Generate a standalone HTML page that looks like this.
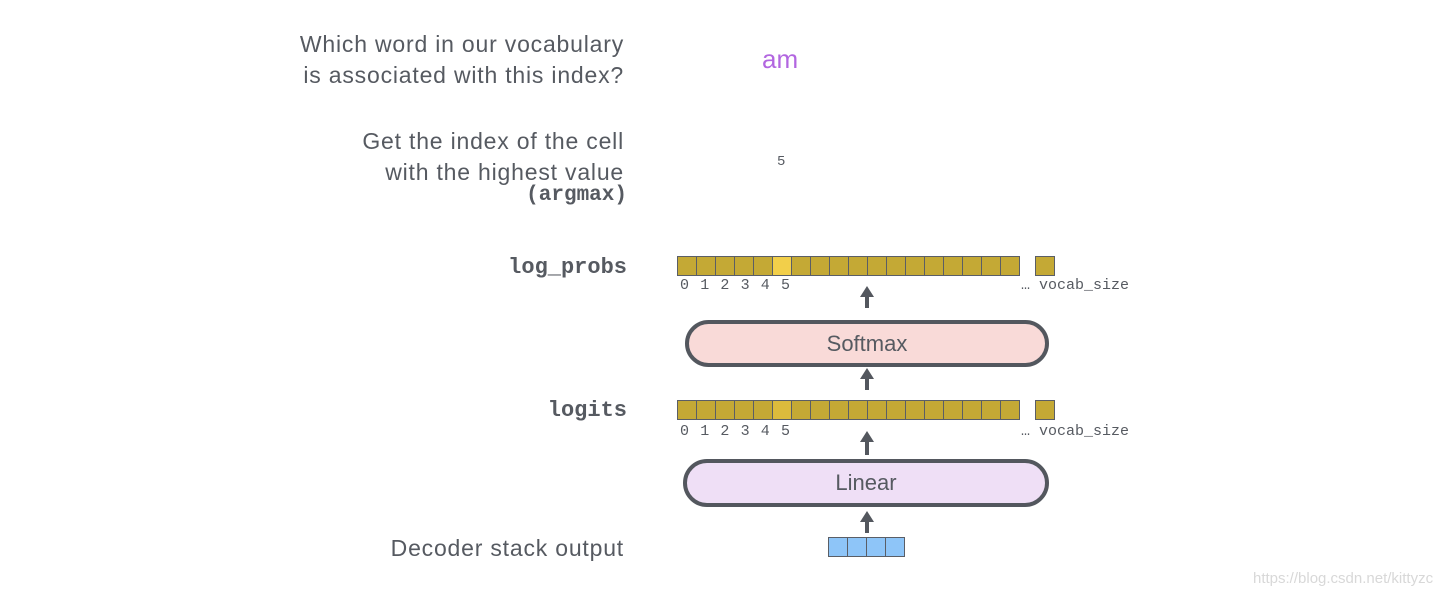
<!DOCTYPE html>
<html><head><style>
body{margin:0;width:1447px;height:598px;background:#fff;position:relative;overflow:hidden;font-family:"Liberation Sans",sans-serif;color:#565a61}
.t{position:absolute;right:823px;text-align:right;font-size:23px;line-height:31px;letter-spacing:0.8px;white-space:nowrap}
.m{font-family:"Liberation Mono",monospace;font-weight:bold;letter-spacing:0}
.row{position:absolute;left:677px;height:19px;display:flex}
.row div{width:18px;height:18px;border:1px solid #5a5e66;border-right:none;background:#c4a935;box-sizing:content-box}
.row div:last-child{border-right:1px solid #5a5e66}
.last{position:absolute;left:1035px;width:18px;height:18px;border:1px solid #5a5e66;background:#c4a935}
.num{position:absolute;left:680px;font-family:"Liberation Mono",monospace;font-size:15px;letter-spacing:1.1px}
.voc{position:absolute;left:1021px;font-family:"Liberation Mono",monospace;font-size:15px}
.pill{position:absolute;border:4px solid #53575e;border-radius:26px;font-size:22px;text-align:center;box-sizing:border-box}
</style></head><body>
<div class="t" style="top:29px">Which word in our vocabulary<br>is associated with this index?</div>
<div style="position:absolute;left:762px;top:44px;font-size:26px;color:#b266e0">am</div>
<div class="t" style="top:126px">Get the index of the cell<br>with the highest value</div>
<div class="t m" style="top:183px;font-size:21px;line-height:26px;right:820px">(argmax)</div>
<div style="position:absolute;left:777px;top:154px;font-family:'Liberation Mono',monospace;font-size:14px">5</div>
<div class="t m" style="top:252px;font-size:22px;right:820px">log_probs</div>
<div class="t m" style="top:395px;font-size:22px;right:820px">logits</div>
<div class="t" style="top:533px">Decoder stack output</div>

<div class="row" style="top:256px"><div></div><div></div><div></div><div></div><div></div><div style="background:#f2cf4a"></div><div></div><div></div><div></div><div></div><div></div><div></div><div></div><div></div><div></div><div></div><div></div><div></div></div>
<div class="last" style="top:256px"></div>
<div class="num" style="top:277px">0 1 2 3 4 5</div>
<div class="voc" style="top:277px">… vocab_size</div>

<div class="row" style="top:400px"><div></div><div></div><div></div><div></div><div></div><div style="background:#dcbb3c"></div><div></div><div></div><div></div><div></div><div></div><div></div><div></div><div></div><div></div><div></div><div></div><div></div></div>
<div class="last" style="top:400px"></div>
<div class="num" style="top:423px">0 1 2 3 4 5</div>
<div class="voc" style="top:423px">… vocab_size</div>

<div class="pill" style="left:685px;top:320px;width:364px;height:47px;line-height:39px;background:#f9dad8">Softmax</div>
<div class="pill" style="left:683px;top:459px;width:366px;height:48px;line-height:40px;background:#efdff6">Linear</div>

<div class="row" style="left:828px;top:537px"><div style="background:#8ec5f8"></div><div style="background:#8ec5f8"></div><div style="background:#8ec5f8"></div><div style="background:#8ec5f8"></div></div>

<svg style="position:absolute;left:0;top:0" width="1447" height="598">
<g fill="#53575e">
<polygon points="867,286 874,297 860,297"/><rect x="865" y="296" width="4" height="12"/>
<polygon points="867,368 874,379 860,379"/><rect x="865" y="378" width="4" height="12"/>
<polygon points="867,431 874,442 860,442"/><rect x="865" y="441" width="4" height="14"/>
<polygon points="867,511 874,522 860,522"/><rect x="865" y="521" width="4" height="12"/>
</g></svg>
<div style="position:absolute;left:1253px;top:570px;font-size:15px;color:#d8d8d8">https://blog.csdn.net/kittyzc</div>
</body></html>
